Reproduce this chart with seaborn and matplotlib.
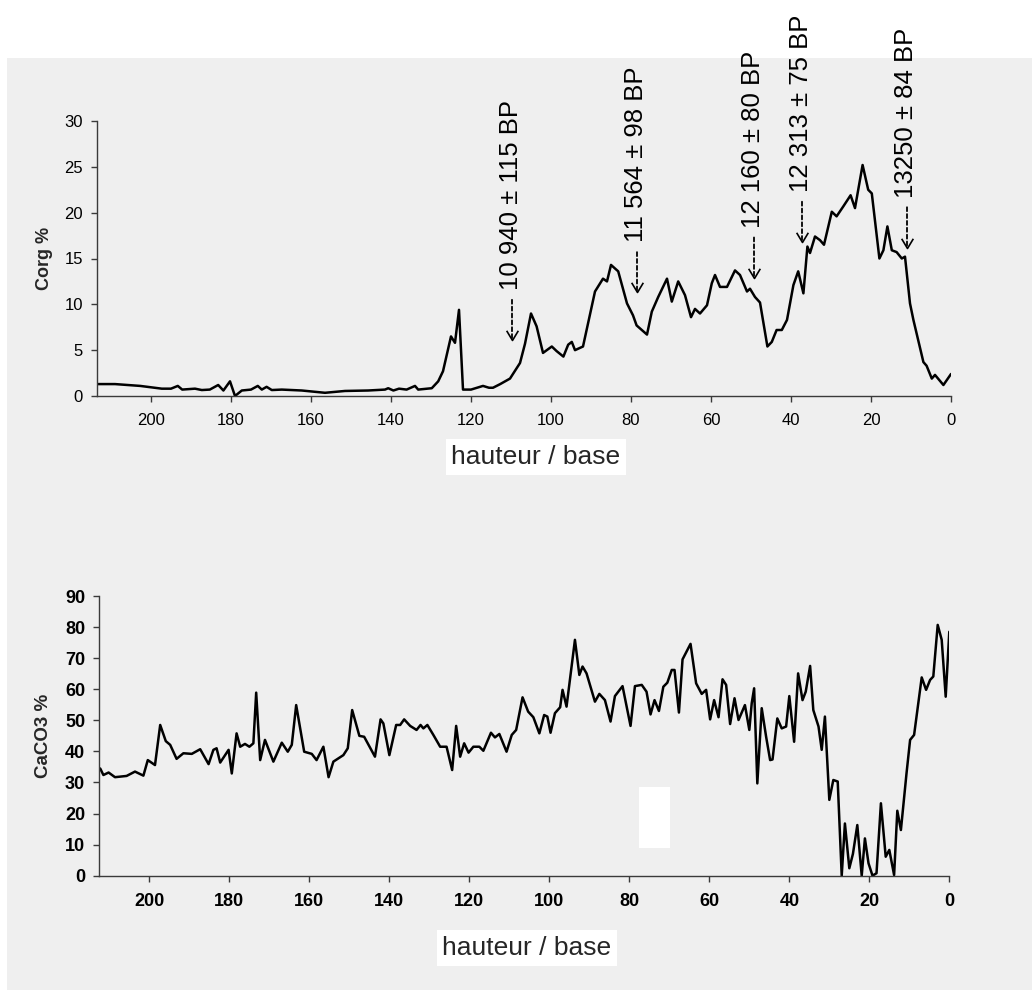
import matplotlib
matplotlib.use("Agg")
import matplotlib.pyplot as plt
import seaborn as sns
import pandas as pd
from matplotlib.patches import Rectangle
from matplotlib.path import Path

# ---------------- data ----------------
corg_depth = [213.2, 209, 202.7, 197.3, 195, 193.3, 192.2, 189, 187.3, 185.3, 183.2, 181.9,
              180.25, 179, 177.3, 175, 173.3, 172.3, 171.1, 169.8, 167.3, 162.3, 156.5,
              151.5, 145.7, 141.5, 140.7, 139.4, 138, 136.1, 134, 133.2, 129.8, 128.2,
              127, 125, 124, 123, 122, 120, 117, 115.5, 114.5, 112.7,
              110.25, 107.75, 106.5, 105, 103.6, 102, 99.8, 98.6, 96.9, 95.7, 94.8, 94, 92,
              89, 87, 86, 85, 83.2, 81, 79.5, 78.6, 76, 74.8, 73.2, 71, 69.8, 68.2, 66.5,
              65, 64, 62.75, 61, 59.8, 59, 57.75, 56, 54, 52.75, 51, 50.25, 49, 47.75, 45.9,
              44.8, 43.6, 42.3, 41, 39.4, 38.2, 36.9, 35.9, 35.25, 34, 32.75, 31.75, 29.8,
              28.6, 26.9, 25.1, 24, 22.1, 20.7, 19.8, 17.9, 16.9, 15.9, 14.8, 13.6, 12.3,
              11.5, 10.25, 9.4, 6.9, 6.1, 4.8, 4.0, 1.9, 0]
corg_values = [1.3, 1.3, 1.1, 0.8, 0.8, 1.1, 0.7, 0.8, 0.65, 0.7, 1.2, 0.6,
               1.6, 0.0, 0.6, 0.7, 1.1, 0.7, 1.0, 0.65, 0.7, 0.6, 0.35,
               0.55, 0.6, 0.7, 0.85, 0.6, 0.8, 0.7, 1.1, 0.7, 0.85, 1.6,
               2.7, 6.5, 5.8, 9.4, 0.7, 0.7, 1.1, 0.9, 0.9, 1.3,
               1.9, 3.6, 5.7, 9.0, 7.6, 4.7, 5.4, 4.9, 4.3, 5.6, 5.9, 5.0, 5.4,
               11.4, 12.8, 12.5, 14.3, 13.6, 10.1, 8.8, 7.7, 6.7, 9.2, 10.8, 12.8, 10.3, 12.5, 11.0,
               8.6, 9.5, 9.0, 9.9, 12.3, 13.2, 11.9, 11.9, 13.7, 13.2, 11.4, 11.7, 10.8, 10.2, 5.4,
               5.9, 7.2, 7.2, 8.3, 12.1, 13.6, 11.2, 16.3, 15.6, 17.4, 17.0, 16.5, 20.1,
               19.6, 20.7, 21.9, 20.5, 25.2, 22.5, 22.1, 15.0, 15.9, 18.5, 15.9, 15.7, 15.0,
               15.2, 10.1, 8.3, 3.7, 3.3, 1.9, 2.3, 1.2, 2.4]

caco3_depth = [212.3, 211.5, 210.2, 208.6, 205.7, 203.6, 201.5, 200.4, 198.6, 197.3, 195.9,
               194.8, 193.2, 191.5, 189.4, 187.3, 185.2, 184, 183.2, 182.3, 180.2, 179.4,
               178.2, 177.3, 176.1, 175, 174, 173.3, 172.3, 171.1, 169, 166.9, 165.4, 164.4,
               163.3, 161.3, 159.4, 158.2, 156.5, 155.2, 154, 151.5, 150.4, 149.3, 147.5,
               146.3, 143.6, 142.2, 141.5, 140, 138.3, 137.3, 136.3, 134.8, 133.2, 132.2,
               131.5, 130.5, 129, 127.3, 125.7, 124.3, 123.3, 122.3, 121.3, 120.2, 119,
               117.5, 116.5, 114.6, 113.6, 112.5, 110.7, 109.4, 108.3, 106.7, 105.3, 104,
               102.5, 101.3, 100.5, 99.7, 98.6, 97.3, 96.7, 95.7, 93.6, 92.5, 91.7, 90.7,
               88.6, 87.5, 86.1, 84.7, 83.6, 81.7, 79.7, 78.6, 76.9, 75.7, 74.7, 73.7, 72.6,
               71.5, 70.5, 69.4, 68.7, 67.6, 66.7, 64.7, 63.3, 61.9, 60.8, 59.8, 58.8, 57.7,
               56.7, 55.8, 54.8, 53.7, 52.7, 51.1, 50, 49.4, 48.8, 48, 46.9, 45.8, 44.8,
               44.2, 43, 41.9, 40.8, 40, 38.8, 37.8, 36.7, 35.9, 34.8, 34, 32.7, 31.9, 31.1,
               30, 29, 27.9, 26.9, 26.1, 25, 24.1, 23, 21.9, 21.1, 20.2, 19.2, 18.2, 17.1,
               15.9, 15, 13.8, 13, 12.1, 10.7, 9.8, 8.8, 6.9, 5.8, 4.8, 4, 2.9, 1.9, 0.9, 0]
caco3_values = [34.5, 32.4, 33.2, 31.7, 32.1, 33.5, 32.2, 37.2, 35.6, 48.5, 43.3,
                42.1, 37.6, 39.4, 39.2, 40.7, 35.9, 40.5, 41.0, 36.4, 40.5, 32.9,
                45.8, 41.5, 42.4, 41.5, 42.6, 58.9, 37.2, 43.7, 36.7, 42.8, 39.9, 42.1,
                54.9, 39.9, 39.2, 37.2, 41.5, 31.7, 36.7, 38.8, 41.0, 53.3, 45.0,
                44.7, 38.3, 50.3, 49.0, 38.8, 48.5, 48.5, 50.3, 48.2, 46.9, 48.5,
                47.4, 48.5, 45.3, 41.5, 41.5, 34.0, 48.2, 38.3, 42.6, 39.6, 41.5,
                41.5, 40.2, 46.0, 44.5, 45.6, 39.9, 45.3, 46.9, 57.4, 52.8, 51.0,
                45.8, 51.7, 51.2, 46.0, 52.3, 54.2, 59.8, 54.4, 75.9, 64.6, 67.3, 65.1,
                56.0, 58.5, 56.5, 49.6, 57.8, 61.0, 48.2, 61.0, 61.4, 59.2, 51.9, 56.5, 53.0,
                60.8, 62.1, 66.2, 66.2, 52.5, 69.6, 74.6, 61.9, 58.5, 59.8, 50.3, 56.5, 51.0,
                63.2, 61.4, 48.8, 57.1, 50.1, 54.9, 46.9, 55.5, 60.3, 29.7, 53.9, 44.7, 37.2,
                37.4, 50.6, 47.4, 48.0, 57.8, 43.1, 65.1, 56.5, 59.2, 67.5, 53.3, 48.0, 40.5, 51.2,
                24.4, 30.8, 30.3, 0.0, 16.8, 2.4, 7.0, 16.3, 0.0, 12.0, 4.0, 0.0, 0.8, 23.3,
                6.1, 8.3, 0.2, 20.9, 14.7, 32.9, 43.7, 45.3, 63.8, 59.8, 63.0, 64.1, 80.7, 75.9, 57.6, 78.5]

x_ticks = [200, 180, 160, 140, 120, 100, 80, 60, 40, 20, 0]
corg_yticks = [0, 5, 10, 15, 20, 25, 30]
caco3_yticks = [0, 10, 20, 30, 40, 50, 60, 70, 80, 90]

date_labels = ["10 940 ± 115 BP", "11 564 ± 98 BP", "12 160 ± 80 BP",
               "12 313 ± 75 BP", "13250 ± 84 BP"]
date_depths = [109.75, 78.5, 49.25, 37.25, 11.0]
date_tips = [6.1, 11.3, 12.9, 16.8, 16.2]

corg_df = pd.DataFrame({"depth": corg_depth, "Corg %": corg_values})
caco3_df = pd.DataFrame({"depth": caco3_depth, "CaCO3 %": caco3_values})

# ---------------- style ----------------
sns.set_style("ticks")
plt.rcParams["font.family"] = ["Liberation Sans", "DejaVu Sans"]

W, H = 1032, 990
fig = plt.figure(figsize=(W / 100, H / 100), dpi=100)
fig.patch.set_facecolor("white")
# scanned page background
fig.add_artist(Rectangle((7 / W, 0), 1 - 7 / W, 1 - 58 / H, transform=fig.transFigure,
                         facecolor="#efefef", edgecolor="none", zorder=-5))

ax1 = fig.add_axes([97 / W, 1 - 396 / H, 854 / W, 275 / H])
ax2 = fig.add_axes([99 / W, 1 - 875.7 / H, 850.3 / W, 279.7 / H])

for ax in (ax1, ax2):
    ax.set_facecolor("none")
    for s in ("top", "right"):
        ax.spines[s].set_visible(False)
    for s in ("left", "bottom"):
        ax.spines[s].set_color("#3a3a3a")
        ax.spines[s].set_linewidth(1.0)

sns.lineplot(data=corg_df, x="depth", y="Corg %", ax=ax1, color="black",
             linewidth=1.8, estimator=None)
sns.lineplot(data=caco3_df, x="depth", y="CaCO3 %", ax=ax2, color="black",
             linewidth=1.8, estimator=None)

ax1.set_xlim(213.5, 0)
ax1.set_ylim(0, 30)
ax2.set_xlim(212.6, 0)
ax2.set_ylim(0, 90)

ax1.set_xticks(x_ticks)
ax1.set_yticks(corg_yticks)
ax2.set_xticks(x_ticks)
ax2.set_yticks(caco3_yticks)

ax1.tick_params(axis="both", direction="out", length=4.5, width=1.0, color="#3a3a3a",
                labelsize=12, labelcolor="black")
ax1.tick_params(axis="x", pad=8)
ax1.tick_params(axis="y", pad=5.5)
ax2.tick_params(axis="both", direction="out", length=4.5, width=1.0, color="#3a3a3a",
                labelsize=13, labelcolor="black")
ax2.tick_params(axis="x", pad=8)
ax2.tick_params(axis="y", pad=5.5)
for lab in ax2.get_xticklabels() + ax2.get_yticklabels():
    lab.set_fontweight("bold")

ax1.set_xlabel("")
ax2.set_xlabel("")
ax1.set_ylabel("Corg %", fontsize=13, fontweight="bold")
ax2.set_ylabel("CaCO3 %", fontsize=13.5, fontweight="bold")
ax1.yaxis.set_label_coords(-0.052, 0.5)
ax2.yaxis.set_label_coords(-0.055, 0.5)

# x-axis titles on white boxes
fig.text(536 / W, 1 - 457 / H, "hauteur / base", fontsize=19, ha="center", va="center",
         bbox=dict(facecolor="white", edgecolor="none", pad=4))
fig.text(527 / W, 1 - 948 / H, "hauteur / base", fontsize=19, ha="center", va="center",
         bbox=dict(facecolor="white", edgecolor="none", pad=4))

# scan artefact (blank patch)
fig.add_artist(Rectangle((639 / W, 1 - 848 / H), 31 / W, 61 / H, transform=fig.transFigure,
                         facecolor="white", edgecolor="none", zorder=1))

# radiocarbon dates
head = Path([(-0.6, 1.0), (0.0, 0.0), (0.6, 1.0)],
            [Path.MOVETO, Path.LINETO, Path.LINETO])
for lab, d, t in zip(date_labels, date_depths, date_tips):
    ax1.annotate("", xy=(d, t), xytext=(0, 29), textcoords="offset points",
                 arrowprops=dict(arrowstyle="-", linestyle=(0, (2.2, 1.6)), lw=1.3,
                                 color="black", shrinkA=0, shrinkB=1))
    ax1.plot([d], [t], marker=head, markersize=14, markerfacecolor="none",
             markeredgecolor="black", markeredgewidth=1.2, clip_on=False)
    ax1.annotate(lab, xy=(d, t), xytext=(-1, 36), textcoords="offset points",
                 rotation=90, ha="center", va="bottom", fontsize=18.5, color="black",
                 annotation_clip=False)

fig.savefig("out.png", dpi=100, facecolor=fig.get_facecolor())
